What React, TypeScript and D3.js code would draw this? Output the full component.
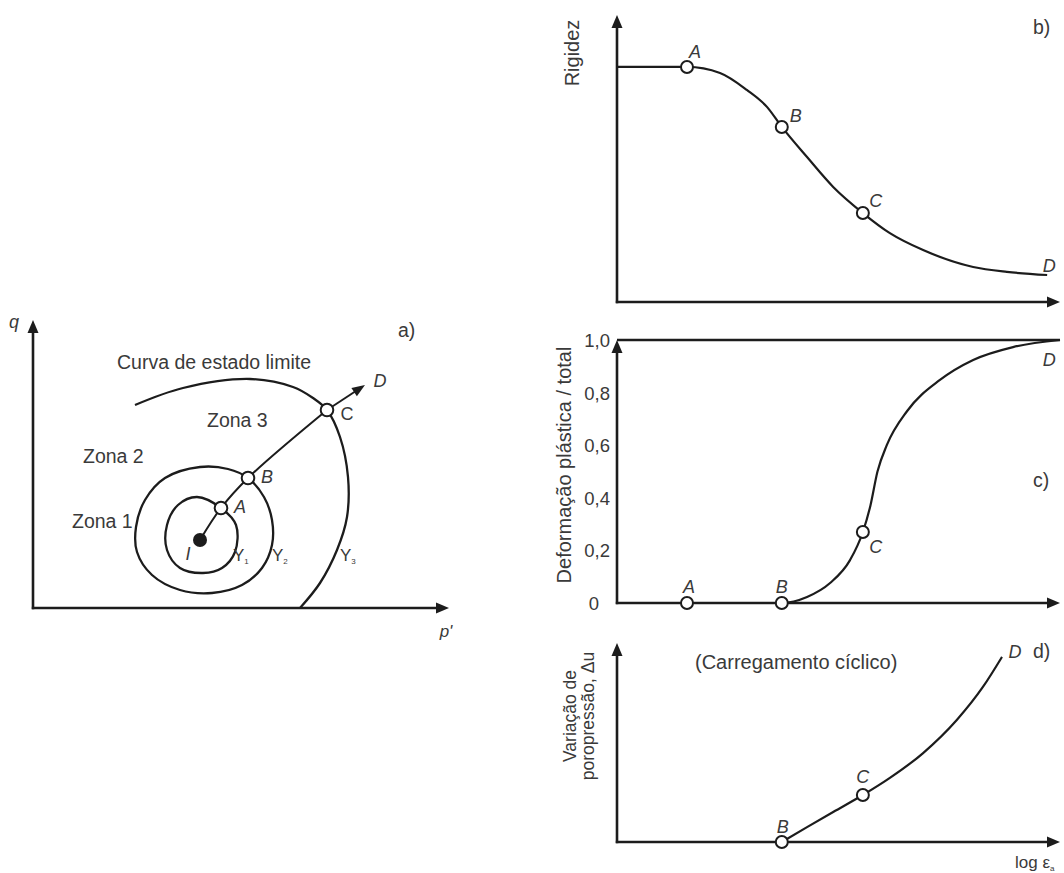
import React from "react";
import * as d3 from "d3";

const FONT = "'Liberation Sans', Arial, Helvetica, sans-serif";
const INK = "#1c1c1c";
const TEXT = "#3a3a3a";

// ---------- a) stress space p'–q (arbitrary stress units) ----------
// stress path from the initial state I through A, B and C
const stressPathLabels = ["I", "A", "B", "C"];
const stressPathP = [41.75, 47, 53.75, 73.5];
const stressPathQ = [17, 25, 32.5, 49.5];
const stressPathTip: [number, number] = [83, 55.75];

// inner yield locus Y1 (closed)
const yieldY1: [number, number][] = [
  [41, 27.75], [47, 25], [50.75, 20.75], [50.5, 14], [47.25, 10], [42.5, 8.75],
  [36.75, 10], [33.5, 14.5], [33.5, 20.75], [36.25, 25.75],
];
// second yield locus Y2 (closed)
const yieldY2: [number, number][] = [
  [41.75, 35.25], [48.75, 34.75], [53.75, 32.5], [57.75, 27.75], [59.75, 22],
  [59.75, 15.75], [57.25, 10], [52.25, 5.75], [44.75, 3.75], [36.75, 4.5],
  [29.75, 8.25], [26, 14], [25.75, 20.25], [28, 27], [33, 32.5],
];
// limit state curve, continuing downwards as Y3
const limitStateCurve: [number, number][] = [
  [25.5, 50.75], [37.5, 55], [54.25, 57.25], [65, 55.25], [70, 52.5], [73.5, 49.5],
  [76.75, 42.75], [78.75, 32.75], [78.5, 22.75], [76, 14.5], [71.75, 6.25], [66.75, 0],
];

// ---------- b)–d) versus log axial strain (arbitrary units) ----------
const strainLabels = ["A", "B", "C", "D"];
const strainAt = [15.8, 37.2, 55.5, 97.1];

// b) stiffness
const stiffnessCurve: [number, number][] = [
  [0, 0.819], [15.8, 0.819], [23.25, 0.798], [29.3, 0.739], [33.9, 0.679],
  [37.2, 0.61], [42.9, 0.505], [48.8, 0.401], [55.5, 0.31], [61.6, 0.24],
  [69.1, 0.181], [80.4, 0.122], [88, 0.105], [97.1, 0.094],
];
// c) plastic / total strain ratio
const plasticRatioCurve: [number, number][] = [
  [0, 0], [15.8, 0], [37.2, 0], [42.9, 0.023], [48.1, 0.076], [52.6, 0.163],
  [55.5, 0.27], [57.2, 0.37], [58.8, 0.5], [60.9, 0.6], [65.5, 0.73],
  [72.9, 0.848], [80.4, 0.924], [89.4, 0.973], [100, 1.0],
];
const ratioTicks = [0, 0.2, 0.4, 0.6, 0.8, 1.0];
const ratioTickLabels = ["0", "0,2", "0,4", "0,6", "0,8", "1,0"];
// d) pore pressure change under cyclic loading
const poreCurve: [number, number][] = [
  [37.2, 0], [42.9, 0.075], [48.8, 0.151], [55.5, 0.236], [61.6, 0.322],
  [69.1, 0.447], [76.7, 0.613], [82.6, 0.779], [86.9, 0.93],
];

// ---------- helpers ----------
function valueAt(curve: [number, number][], x: number) {
  const hit = curve.find((d) => Math.abs(d[0] - x) < 1e-9);
  return hit ? hit[1] : 0;
}

function arrowHead(tx: number, ty: number, angle: number, len = 13, half = 5.5) {
  const c = Math.cos(angle), s = Math.sin(angle);
  const bx = tx - len * c, by = ty - len * s;
  return `${tx},${ty} ${bx - half * s},${by + half * c} ${bx + half * s},${by - half * c}`;
}

function Axes({ x0, y0, xTip, yTip }: { x0: number; y0: number; xTip: number; yTip: number }) {
  return (
    <g>
      <line x1={x0} y1={y0 + 1.2} x2={x0} y2={yTip + 10} stroke={INK} strokeWidth={2.6} />
      <line x1={x0 - 1.2} y1={y0} x2={xTip - 10} y2={y0} stroke={INK} strokeWidth={2.6} />
      <polygon points={arrowHead(x0, yTip, -Math.PI / 2)} fill={INK} />
      <polygon points={arrowHead(xTip, y0, 0)} fill={INK} />
    </g>
  );
}

const Label = ({ x, y, children, italic = false, size = 19.5, anchor = "middle" }: any) => (
  <text
    x={x}
    y={y}
    fontFamily={FONT}
    fontSize={size}
    fontStyle={italic ? "italic" : "normal"}
    fill={TEXT}
    textAnchor={anchor}
  >
    {children}
  </text>
);

const Ring = ({ x, y, r = 6 }: { x: number; y: number; r?: number }) => (
  <circle cx={x} cy={y} r={r} fill="#fff" stroke={INK} strokeWidth={2} />
);

export default function App() {
  // a) scales
  const xA = d3.scaleLinear().domain([0, 104]).range([33, 449]);
  const yA = d3.scaleLinear().domain([0, 72]).range([608, 320]);
  const lineA = d3.line<[number, number]>().x((d) => xA(d[0])).y((d) => yA(d[1]));

  const pathPts: [number, number][] = stressPathP.map((p, i) => [p, stressPathQ[i]]);
  const pIdx = (lbl: string) => stressPathLabels.indexOf(lbl);
  const ptA = (lbl: string): [number, number] => [xA(stressPathP[pIdx(lbl)]), yA(stressPathQ[pIdx(lbl)])];

  const cPx = ptA("C");
  const tipPx: [number, number] = [xA(stressPathTip[0]), yA(stressPathTip[1])];
  const tipAngle = Math.atan2(tipPx[1] - cPx[1], tipPx[0] - cPx[0]);
  const shaftEnd: [number, number] = [tipPx[0] - 10 * Math.cos(tipAngle), tipPx[1] - 10 * Math.sin(tipAngle)];

  // b)–d) scales
  const xR = d3.scaleLinear().domain([0, 100]).range([617, 1060]);
  const yB = d3.scaleLinear().domain([0, 1]).range([302, 15]);
  const yC = d3.scaleLinear().domain([0, 1]).range([603, 340]);
  const yD = d3.scaleLinear().domain([0, 1]).range([842, 643]);
  const mk = (y: d3.ScaleLinear<number, number>) =>
    d3.line<[number, number]>().x((d) => xR(d[0])).y((d) => y(d[1])).curve(d3.curveMonotoneX);

  const sAt = (lbl: string) => strainAt[strainLabels.indexOf(lbl)];

  return (
    <svg
      width={1064}
      height={873}
      viewBox="0 0 1064 873"
      style={{ position: "absolute", left: 0, top: 0, background: "#fff" }}
    >
      {/* ---------------- a) ---------------- */}
      <Axes x0={xA(0)} y0={yA(0)} xTip={xA(104)} yTip={yA(72)} />
      <path d={lineA.curve(d3.curveCatmullRomClosed.alpha(0.5))(yieldY1) || ""} fill="none" stroke={INK} strokeWidth={2.3} />
      <path d={lineA.curve(d3.curveCatmullRomClosed.alpha(0.5))(yieldY2) || ""} fill="none" stroke={INK} strokeWidth={2.3} />
      <path d={lineA.curve(d3.curveCatmullRom.alpha(0.5))(limitStateCurve) || ""} fill="none" stroke={INK} strokeWidth={2.3} />
      <path d={lineA.curve(d3.curveCatmullRom.alpha(0.5))(pathPts) || ""} fill="none" stroke={INK} strokeWidth={2} />
      <line x1={cPx[0]} y1={cPx[1]} x2={shaftEnd[0]} y2={shaftEnd[1]} stroke={INK} strokeWidth={2} />
      <polygon points={arrowHead(tipPx[0], tipPx[1], tipAngle, 13, 5)} fill={INK} />
      <circle cx={ptA("I")[0]} cy={ptA("I")[1]} r={7} fill={INK} />
      {["A", "B", "C"].map((l) => (
        <Ring key={l} x={ptA(l)[0]} y={ptA(l)[1]} r={6.3} />
      ))}

      <Label x={14} y={328} italic size={18}>q</Label>
      <Label x={446} y={637} italic size={17}>p'</Label>
      <Label x={398} y={337} anchor="start">a)</Label>
      <Label x={117} y={369} anchor="start">Curva de estado limite</Label>
      <Label x={207} y={427} anchor="start">Zona 3</Label>
      <Label x={83} y={463} anchor="start">Zona 2</Label>
      <Label x={72} y={528} anchor="start">Zona 1</Label>
      <Label x={ptA("A")[0] + 19} y={ptA("A")[1] + 5} italic size={18}>A</Label>
      <Label x={ptA("B")[0] + 19} y={ptA("B")[1] + 5} italic size={18}>B</Label>
      <Label x={ptA("C")[0] + 20} y={ptA("C")[1] + 10} size={18}>C</Label>
      <Label x={tipPx[0] + 15} y={tipPx[1] + 2} italic size={18}>D</Label>
      <Label x={ptA("I")[0] - 12} y={ptA("I")[1] + 20} italic size={18}>I</Label>
      <text x={233} y={561} fontFamily={FONT} fontSize={17} fill={TEXT}>
        Y<tspan fontSize={8} dy={3}>1</tspan>
      </text>
      <text x={272} y={561} fontFamily={FONT} fontSize={17} fill={TEXT}>
        Y<tspan fontSize={8} dy={3}>2</tspan>
      </text>
      <text x={340} y={561} fontFamily={FONT} fontSize={17} fill={TEXT}>
        Y<tspan fontSize={8} dy={3}>3</tspan>
      </text>

      {/* ---------------- b) ---------------- */}
      <Axes x0={xR(0)} y0={yB(0)} xTip={xR(100)} yTip={yB(1)} />
      <path d={mk(yB)(stiffnessCurve) || ""} fill="none" stroke={INK} strokeWidth={2.2} />
      {["A", "B", "C"].map((l) => (
        <Ring key={l} x={xR(sAt(l))} y={yB(valueAt(stiffnessCurve, sAt(l)))} />
      ))}
      <g transform="translate(579,53) rotate(-90)">
        <Label x={0} y={0} size={20}>Rigidez</Label>
      </g>
      <Label x={1033} y={34} anchor="start">b)</Label>
      <Label x={xR(sAt("A")) + 8} y={yB(valueAt(stiffnessCurve, sAt("A"))) - 9} italic size={18}>A</Label>
      <Label x={xR(sAt("B")) + 14} y={yB(valueAt(stiffnessCurve, sAt("B"))) - 5} italic size={18}>B</Label>
      <Label x={xR(sAt("C")) + 13} y={yB(valueAt(stiffnessCurve, sAt("C"))) - 6} italic size={18}>C</Label>
      <Label x={xR(sAt("D")) + 2} y={yB(valueAt(stiffnessCurve, sAt("D"))) - 3} italic size={18}>D</Label>

      {/* ---------------- c) ---------------- */}
      <line x1={xR(0)} y1={yC(1)} x2={xR(100)} y2={yC(1)} stroke={INK} strokeWidth={2.6} />
      <Axes x0={xR(0)} y0={yC(0)} xTip={xR(100)} yTip={yC(1)} />
      <path d={mk(yC)(plasticRatioCurve) || ""} fill="none" stroke={INK} strokeWidth={2.2} />
      {["A", "B", "C"].map((l) => (
        <Ring key={l} x={xR(sAt(l))} y={yC(valueAt(plasticRatioCurve, sAt(l)))} />
      ))}
      {ratioTicks.map((t, i) => (
        <Label key={t} x={i === 0 ? 594 : 610} y={yC(t) + 7} anchor={i === 0 ? "middle" : "end"} size={18.5}>
          {ratioTickLabels[i]}
        </Label>
      ))}
      <g transform="translate(571,465) rotate(-90)">
        <Label x={0} y={0} size={20}>Deformação plástica / total</Label>
      </g>
      <Label x={1033} y={487} anchor="start">c)</Label>
      <Label x={xR(sAt("A")) + 2} y={yC(0) - 10} italic size={18}>A</Label>
      <Label x={xR(sAt("B"))} y={yC(0) - 10} italic size={18}>B</Label>
      <Label x={xR(sAt("C")) + 13} y={yC(valueAt(plasticRatioCurve, sAt("C"))) + 21} italic size={18}>C</Label>
      <Label x={xR(sAt("D")) + 2} y={yC(1) + 26} italic size={18}>D</Label>

      {/* ---------------- d) ---------------- */}
      <Axes x0={xR(0)} y0={yD(0)} xTip={xR(100)} yTip={yD(1)} />
      <path d={mk(yD)(poreCurve) || ""} fill="none" stroke={INK} strokeWidth={2.2} />
      {["B", "C"].map((l) => (
        <Ring key={l} x={xR(sAt(l))} y={yD(valueAt(poreCurve, sAt(l)))} />
      ))}
      <Label x={695} y={669} anchor="start" size={20}>(Carregamento cíclico)</Label>
      <Label x={1033} y={658} anchor="start">d)</Label>
      <Label x={1015} y={658} italic size={18}>D</Label>
      <Label x={xR(sAt("C"))} y={yD(valueAt(poreCurve, sAt("C"))) - 12} italic size={18}>C</Label>
      <Label x={xR(sAt("B")) + 1} y={yD(0) - 9} italic size={18}>B</Label>
      <g transform="translate(576,716) rotate(-90)">
        <Label x={0} y={0} size={17.5}>Variação de</Label>
      </g>
      <g transform="translate(594,716) rotate(-90)">
        <Label x={0} y={0} size={17.5}>poropressão, Δu</Label>
      </g>
      <text x={1015} y={868} fontFamily={FONT} fontSize={17} fill={TEXT}>
        log ε<tspan fontSize={8} dy={3}>a</tspan>
      </text>
    </svg>
  );
}
